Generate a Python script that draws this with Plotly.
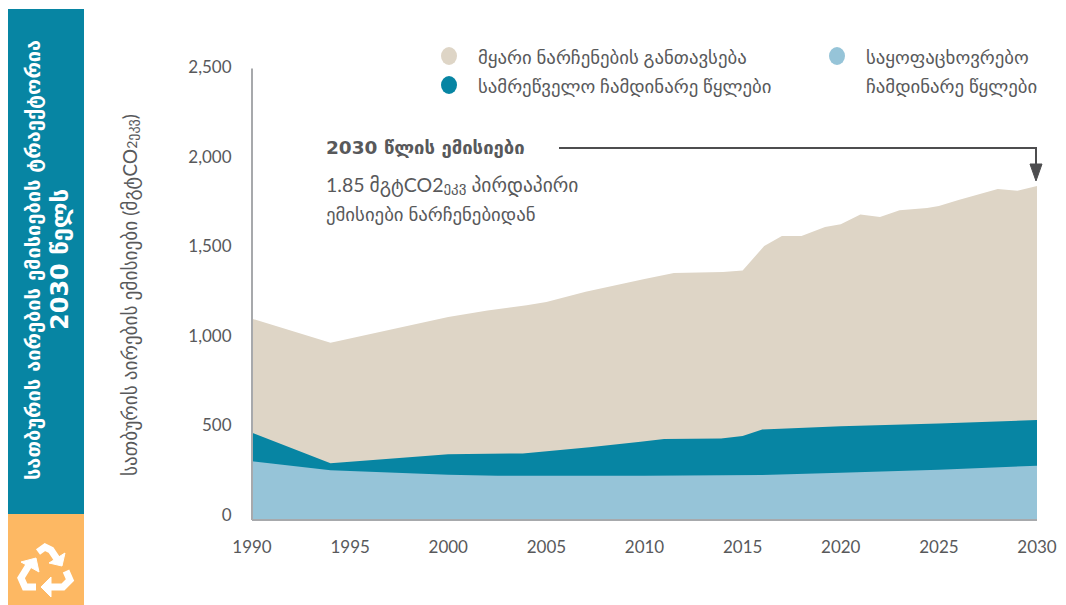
import plotly.graph_objects as go

W, H = 1066, 605
L, R, T, B = 252, 1037, 60, 520

waste_years = [1990, 1994, 2000, 2002, 2004, 2005, 2007, 2010, 2011.5, 2014, 2015, 2016.1, 2017, 2018, 2019.2, 2020, 2021, 2022, 2023, 2024.4, 2025, 2026, 2028, 2029, 2030]
waste_top = [1115, 982, 1125, 1160, 1190, 1208, 1265, 1335, 1368, 1374, 1382, 1518, 1573, 1573, 1623, 1638, 1693, 1678, 1716, 1728, 1740, 1773, 1834, 1824, 1850]
industry_years = [1990, 1994, 2000, 2001, 2003.8, 2007.2, 2009.8, 2011, 2013.9, 2015, 2016, 2020, 2025, 2030]
industry_top = [484, 314, 364, 366, 369, 403, 434, 449, 452, 465, 502, 519, 535, 554]
domestic_years = [1990, 1994, 2000, 2002.5, 2010, 2016, 2020, 2025, 2030]
domestic_top = [325, 275, 251, 245, 245, 249, 262, 279, 301]

x_ticks = [1990, 1995, 2000, 2005, 2010, 2015, 2020, 2025, 2030]
y_ticks = [0, 500, 1000, 1500, 2000, 2500]

TEAL = "#0785a3"
TAN = "#ded5c6"
LIGHT = "#96c4d8"
ORANGE = "#fdb863"
TEXT = "#58595b"
AXIS = "#a7a9ac"
FONT = "Lato, DejaVu Sans, sans-serif"
BOLD = "DejaVu Sans, sans-serif"


def px(x):
    return (x - L) / (R - L)


def py(y):
    return (B - y) / (B - T)


def path(points, close=False):
    s = "M " + " L ".join(f"{px(x):.5f},{py(y):.5f}" for x, y in points)
    return s + (" Z" if close else "")


scale = 0.1805
fig = go.Figure()
for xs, ys, c in [(waste_years, waste_top, TAN), (industry_years, industry_top, TEAL), (domestic_years, domestic_top, LIGHT)]:
    fig.add_trace(go.Scatter(x=xs, y=ys, fill="tozeroy", fillcolor=c, mode="none", showlegend=False, hoverinfo="skip"))
fig.add_trace(go.Scatter(x=[1990], y=[0], yaxis="y2", mode="markers", marker=dict(opacity=0), showlegend=False, hoverinfo="skip"))

shapes = []


def rect(x0, y0, x1, y1, c):
    shapes.append(dict(type="rect", xref="paper", yref="paper", x0=px(x0), x1=px(x1), y0=py(y0), y1=py(y1), fillcolor=c, line_width=0, layer="above"))


rect(8, 9, 84, 514, TEAL)
rect(8, 514, 84, 605, ORANGE)


def line(points, c, w):
    shapes.append(dict(type="path", xref="paper", yref="paper", path=path(points), line=dict(color=c, width=w), layer="above"))


def tri(points, c):
    shapes.append(dict(type="path", xref="paper", yref="paper", path=path(points, True), fillcolor=c, line=dict(color=c, width=1), layer="above"))


# axis lines
shapes.append(dict(type="line", x0=0, x1=0, y0=py(520), y1=py(68.5), xref="paper", yref="paper", line=dict(color=AXIS, width=2), layer="above"))
shapes.append(dict(type="line", x0=0, x1=1, y0=py(520), y1=py(520), xref="paper", yref="paper", line=dict(color=AXIS, width=2), layer="above"))

# callout
line([(559, 148), (1036, 148), (1036, 166)], "#4d4d4f", 2)
tri([(1030, 164), (1042, 164), (1036, 181)], "#4d4d4f")

# recycle icon
line([(38, 552), (45, 547), (51, 550), (57, 559)], "white", 7)
tri([(65, 553), (62, 566), (49, 563)], "white")
line([(29, 565), (21, 578), (25, 587), (36, 587)], "white", 7)
tri([(21, 562), (36, 558), (39, 572)], "white")
line([(50, 587), (63, 587), (70, 580), (66, 571)], "white", 7)
tri([(41, 587), (51, 577), (51, 597)], "white")


# legend markers
def dot(cx, cy, c):
    shapes.append(dict(type="circle", xref="paper", yref="paper", x0=px(cx - 8), x1=px(cx + 8), y0=py(cy + 9), y1=py(cy - 9), fillcolor=c, line_width=0))


dot(449, 56, TAN)
dot(449, 85, TEAL)
dot(837, 56, LIGHT)

ann = []


def text(x, y, s, size=18.8, color=TEXT, anchor="left", angle=0, bold=False):
    ann.append(dict(xref="paper", yref="paper", x=px(x), y=py(y), text=f"<b>{s}</b>" if bold else s, showarrow=False, xanchor=anchor, yanchor="middle", textangle=angle, font=dict(family=BOLD if bold else FONT, size=size, color=color)))


text(476, 56, "მყარი ნარჩენების განთავსება")
text(476, 85, "სამრეწველო ჩამდინარე წყლები")
text(864, 56, "საყოფაცხოვრებო")
text(864, 85, "ჩამდინარე წყლები")
text(324, 147, "2030 წლის ემისიები", size=18.5, bold=True)
text(324, 185, "1.85 მგტCO2<span style=\"font-size:15px\">ეკვ</span> პირდაპირი", size=19.5)
text(324, 214, "ემისიები ნარჩენებიდან", size=18.8)
text(130, 295, "სათბურის აირების ემისიები (მგტCO<span style=\"font-size:14px\">2ეკვ</span>)", size=19.3, anchor="center", angle=-90)
text(33, 260, "სათბურის აირების ემისიების ტრაექტორია", size=20, color="white", anchor="center", angle=-90, bold=True)
text(60, 260, "2030 წელს", size=24, color="white", anchor="center", angle=-90, bold=True)

fig.update_layout(
    width=W, height=H,
    margin=dict(l=L, r=W - R, t=T, b=H - B, pad=0, autoexpand=False),
    paper_bgcolor="white", plot_bgcolor="white",
    font=dict(family=FONT, size=17, color=TEXT),
    shapes=shapes, annotations=ann,
    xaxis=dict(range=[1990, 2030], tickvals=x_ticks, showgrid=False, zeroline=False, showline=False, ticks="outside", ticklen=12, tickcolor="rgba(0,0,0,0)", tickfont=dict(size=17, color=TEXT)),
    yaxis=dict(range=[0, (B - T) / scale], visible=False, fixedrange=True),
    yaxis2=dict(
        overlaying="y", side="left", anchor="x",
        range=[(515 - B) / 0.1792, (515 - T) / 0.1792],
        tickvals=y_ticks, tickformat=",", showgrid=False, zeroline=False, showline=False,
        ticks="outside", ticklen=16, tickcolor="rgba(0,0,0,0)", tickfont=dict(size=17, color=TEXT)),
)
fig.write_html("out.html", config={"displayModeBar": False}, post_script="document.body.style.margin='0';")
